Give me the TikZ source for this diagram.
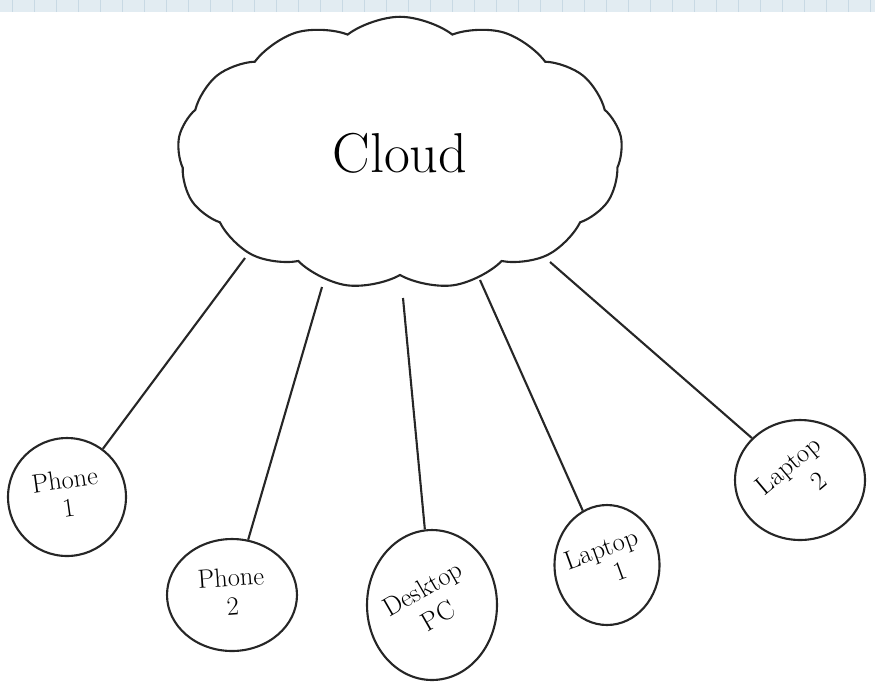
\documentclass[tikz,border=0pt]{standalone}
\usetikzlibrary{shapes.geometric,shapes.symbols}
\definecolor{gridband}{RGB}{226,236,242}
\definecolor{gridline}{RGB}{200,217,228}
\newcommand{\tiltlabel}[2]{\rotatebox{#1}{\begin{tabular}{@{}c@{}}#2\end{tabular}}}
\begin{document}
\begin{tikzpicture}
[x=0.02cm, y=-0.02cm,
 lineDecorate/.style={line width=1.2pt, draw=black!85},
 deviceDecorate/.style={shape=ellipse, draw=black!85, line width=1.2pt, inner sep=0pt},
 labelDecorate/.style={inner sep=0pt, font=\fontsize{15}{16}\selectfont},
 cloudDecorate/.style={shape=cloud, draw=black!85, line width=1.2pt, cloud puffs=13, cloud puff arc=75, aspect=1.64, minimum width=8.9cm, minimum height=5.45cm, font=\fontsize{32}{36}\selectfont}]

 \useasboundingbox (0,0) rectangle (875,684);
 % grid strip at the top
 \fill[gridband] (0,0) rectangle (875,12);
 \foreach \i in {0,...,39}
 {
          \draw[gridline, line width=0.4pt] (\i*22+12,0) -- (\i*22+12,12);
 }

 \node (cloud) at (400,153) [cloudDecorate] {Cloud};

 \node (phone1) at (67,497) [deviceDecorate, minimum width=2.36cm, minimum height=2.36cm,
   label={[labelDecorate]center:\tiltlabel{8}{Phone\\1}}] {};
 \node (phone2) at (232,595) [deviceDecorate, minimum width=2.6cm, minimum height=2.24cm,
   label={[labelDecorate]center:\tiltlabel{4}{Phone\\2}}] {};
 \node (desktop) at (432,605) [deviceDecorate, minimum width=2.6cm, minimum height=3.0cm,
   label={[labelDecorate]center:\tiltlabel{30}{Desktop\\[2pt]PC}}] {};
 \node (laptop1) at (607,565) [deviceDecorate, minimum width=2.1cm, minimum height=2.4cm,
   label={[labelDecorate]center:\tiltlabel{20}{Laptop\\\hspace{0.8em}1}}] {};
 \node (laptop2) at (800,480) [deviceDecorate, minimum width=2.6cm, minimum height=2.4cm,
   label={[labelDecorate]center:\tiltlabel{40}{Laptop\\[2pt]\hspace{1em}2}}] {};

 \coordinate (t1) at (245,258);
 \coordinate (t2) at (322,287);
 \coordinate (t3) at (403,298);
 \coordinate (t4) at (480,280);
 \coordinate (t5) at (550,262);

\path
 (t1) edge[lineDecorate] (phone1)
 (t2) edge[lineDecorate] (phone2)
 (t3) edge[lineDecorate] (desktop)
 (t4) edge[lineDecorate] (laptop1)
 (t5) edge[lineDecorate] (laptop2);
\end{tikzpicture}
\end{document}
